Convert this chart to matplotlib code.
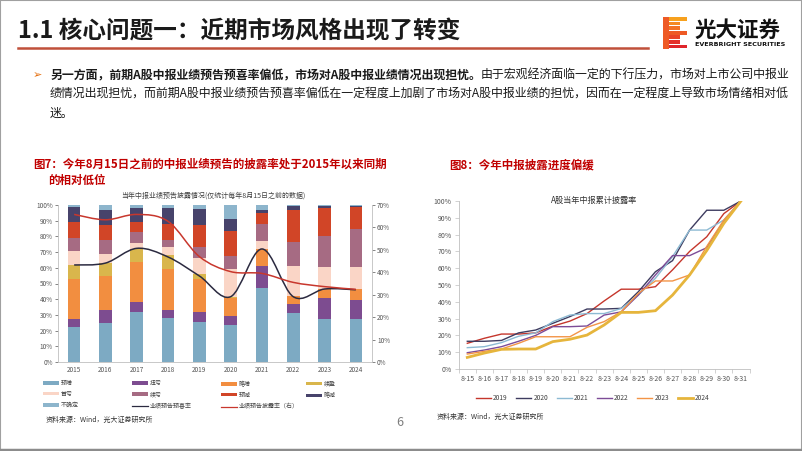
import matplotlib
matplotlib.use("Agg")
import matplotlib.pyplot as plt
import numpy as np
from matplotlib.path import Path
from matplotlib.patches import PathPatch, Patch, Rectangle
from matplotlib.lines import Line2D
from matplotlib.ticker import PercentFormatter

plt.rcParams['font.family'] = ['Noto Sans CJK SC', 'DejaVu Sans']

W, H = 802, 451

# ---- 图7 数据 ----
years = ['2015', '2016', '2017', '2018', '2019', '2020', '2021', '2022', '2023', '2024']
bar_cats = ['预增', '扭亏', '略增', '续盈', '首亏', '续亏', '预减', '略减', '不确定']
yuzeng = [22.0, 25.0, 32.0, 28.0, 25.5, 23.5, 47.3, 31.0, 27.4, 27.4]
niukui = [5.5, 8.0, 6.0, 5.0, 6.5, 6.0, 14.0, 5.7, 13.2, 12.1]
lvezeng = [25.5, 21.5, 26.0, 26.0, 21.0, 11.0, 10.7, 5.6, 5.9, 6.8]
xuying = [8.5, 8.5, 8.0, 9.0, 3.0, 1.0, 0.0, 0.0, 0.0, 0.0]
shoukui = [9.0, 6.0, 4.0, 5.0, 10.0, 17.7, 5.1, 19.1, 14.2, 14.4]
xukui = [8.5, 9.0, 7.0, 5.0, 7.0, 8.5, 10.6, 14.8, 19.8, 24.0]
yujian = [10.0, 9.0, 6.0, 10.0, 14.5, 16.0, 7.0, 20.6, 17.4, 13.8]
lvejian = [10.0, 10.0, 9.0, 10.0, 10.0, 7.4, 2.1, 2.5, 1.6, 1.1]
buqueding = [1.0, 3.0, 2.0, 2.0, 2.5, 8.9, 3.2, 0.7, 0.5, 0.4]
yuxi_rate = [61.8, 63.0, 72.4, 66.9, 54.8, 41.6, 72.0, 41.6, 46.5, 46.0]     # 左轴
pilu_rate = [65.8, 63.4, 65.8, 62.7, 47.0, 40.3, 39.5, 35.5, 33.6, 32.4]     # 右轴

bar_colors = ['#7DAAC3', '#7D4C90', '#F28E40', '#D9B64C', '#FAD5C6',
              '#A66B83', '#D14527', '#47436B', '#8DB5CC']

# ---- 图8 数据 ----
days = ['8-15', '8-16', '8-17', '8-18', '8-19', '8-20', '8-21', '8-22', '8-23',
        '8-24', '8-25', '8-26', '8-27', '8-28', '8-29', '8-30', '8-31']
r2019 = [15.3, 18.3, 20.8, 20.8, 21.5, 25.5, 28.5, 33.0, 40.5, 47.5, 47.5, 49.0, 59.0, 70.0, 78.7, 92.5, 100]
r2020 = [16.5, 16.5, 17.0, 21.5, 23.2, 27.2, 31.2, 35.7, 35.7, 36.1, 46.0, 57.9, 64.5, 82.7, 94.5, 94.5, 100]
r2021 = [12.7, 13.3, 15.7, 19.5, 21.5, 28.2, 32.1, 33.0, 33.0, 36.0, 44.0, 54.0, 66.9, 82.7, 82.7, 88.7, 100]
r2022 = [9.7, 11.3, 13.3, 16.5, 20.0, 25.2, 25.2, 25.6, 32.1, 34.0, 44.0, 56.0, 67.5, 67.5, 72.2, 88.0, 100]
r2023 = [8.9, 10.5, 11.9, 15.3, 19.2, 19.2, 19.2, 24.8, 28.2, 34.1, 45.0, 52.4, 52.4, 56.0, 73.0, 88.7, 100]
r2024 = [6.9, 9.5, 11.7, 11.9, 11.9, 16.3, 17.7, 20.2, 26.2, 33.7, 33.7, 34.7, 44.0, 56.0, 70.5, 86.7, 100]
line_years = ['2019', '2020', '2021', '2022', '2023', '2024']
line_colors = ['#C5362C', '#3E3C60', '#8DBAD3', '#7D4C97', '#F39447', '#E6B53C']


def fx(x):
    return x / W


def fy(y):
    return 1 - y / H


def smooth_path(xs, ys):
    # Excel 风格平滑线 (Catmull-Rom -> Bezier)
    pts = np.column_stack([xs, ys]).astype(float)
    n = len(pts)
    verts, codes = [pts[0]], [Path.MOVETO]
    for i in range(n - 1):
        p0 = pts[i - 1] if i > 0 else pts[i]
        p1, p2 = pts[i], pts[i + 1]
        p3 = pts[i + 2] if i + 2 < n else pts[i + 1]
        verts += [p1 + (p2 - p0) / 6, p2 - (p3 - p1) / 6, p2]
        codes += [Path.CURVE4] * 3
    return Path(verts, codes)


fig = plt.figure(figsize=(W / 100, H / 100), dpi=100)
fig.patch.set_facecolor('white')

# ---- 页面框架 ----
fig.add_artist(Rectangle((0, 0), 1, 1, transform=fig.transFigure, fill=False,
                         edgecolor='#A0A0A0', lw=1.5))
fig.add_artist(Line2D([0, 1], [fy(449.5), fy(449.5)], transform=fig.transFigure,
                      color='#8C8C8C', lw=2.5))

fig.text(fx(18), fy(31), '1.1 核心问题一：近期市场风格出现了转变', fontsize=17,
         fontweight='bold', va='center', ha='left', color='#1A1A1A')
fig.add_artist(Line2D([fx(18), fx(648)], [fy(48), fy(48)], transform=fig.transFigure,
                      color='#C0503A', lw=1.8))

# logo
stripe_cols = ['#F7A11E', '#F58A20', '#F27223', '#EE5A25', '#E94427', '#E4302A', '#DF252B']
for i, c in enumerate(stripe_cols):
    y0 = 17 + i * 4.6
    w = 24 if i in (0, 3, 6) else 17
    fig.add_artist(Rectangle((fx(663), fy(y0 + 3.8)), w / W, 3.8 / H,
                             transform=fig.transFigure, color=c, lw=0))
fig.add_artist(Rectangle((fx(663), fy(49)), 6 / W, 32 / H,
                         transform=fig.transFigure, color='#EE5A25', lw=0))
fig.text(fx(695), fy(30), '光大证券', fontsize=15.5, fontweight='bold',
         va='center', ha='left', color='#111111')
fig.text(fx(695), fy(45), 'EVERBRIGHT SECURITIES', fontsize=4.6, fontweight='bold',
         va='center', ha='left', color='#111111', family=['DejaVu Sans'])

# 正文
fig.text(fx(37), fy(75), '➢', fontsize=8, color='#E46C0A', va='center', ha='center',
         family=['DejaVu Sans'])
t1 = fig.text(fx(50), fy(75), '另一方面，前期A股中报业绩预告预喜率偏低，市场对A股中报业绩情况出现担忧。',
              fontsize=8.6, fontweight='bold', va='center', ha='left', color='#1A1A1A')
fig.add_artist(plt.Annotation('由于宏观经济面临一定的下行压力，市场对上市公司中报业',
                              xy=(1, 0.5), xycoords=t1, va='center', ha='left',
                              fontsize=8.6, color='#1A1A1A'))
body2 = '绩情况出现担忧，而前期A股中报业绩预告预喜率偏低在一定程度上加剧了市场对A股中报业绩的担忧，因而在一定程度上导致市场情绪相对低'
fig.text(fx(50), fy(94), body2, fontsize=8.6, va='center', ha='left', color='#1A1A1A')
fig.text(fx(50), fy(113), '迷。', fontsize=8.6, va='center', ha='left', color='#1A1A1A')

# 图标题
red = '#C00000'
fig.text(fx(33), fy(164), '图7：今年8月15日之前的中报业绩预告的披露率处于2015年以来同期',
         fontsize=8.3, fontweight='bold', color=red, va='center', ha='left')
fig.text(fx(48), fy(180), '的相对低位', fontsize=8.3, fontweight='bold', color=red,
         va='center', ha='left')
fig.text(fx(449), fy(165), '图8：今年中报披露进度偏缓', fontsize=8.3, fontweight='bold',
         color=red, va='center', ha='left')

# ---- 图7 ----
ax = fig.add_axes([fx(58.5), fy(362), (371.5 - 58.5) / W, (362 - 205) / H])
x = np.arange(len(years))
series = [yuzeng, niukui, lvezeng, xuying, shoukui, xukui, yujian, lvejian, buqueding]
bottom = np.zeros(len(years))
for vals, col in zip(series, bar_colors):
    ax.bar(x, vals, bottom=bottom, width=0.4, color=col, lw=0)
    bottom += np.array(vals)
ax.set_xlim(-0.5, len(years) - 0.5)
ax.set_ylim(0, 100)
ax.set_yticks(np.arange(0, 101, 10))
ax.yaxis.set_major_formatter(PercentFormatter(decimals=0))
ax.set_xticks(x)
ax.set_xticklabels(years)
ax.tick_params(labelsize=4.6, colors='#555555', length=2, width=0.5, pad=2)
ax.tick_params(axis='x', length=0, pad=3)
for s in ['top', 'right']:
    ax.spines[s].set_visible(False)
for s in ['left', 'bottom']:
    ax.spines[s].set_color('#BFBFBF')
    ax.spines[s].set_linewidth(0.6)
ax.add_patch(PathPatch(smooth_path(x, yuxi_rate), fill=False, edgecolor='#2B2A40', lw=1.1))

ax2 = ax.twinx()
ax2.set_ylim(0, 70)
ax2.set_yticks(np.arange(0, 71, 10))
ax2.yaxis.set_major_formatter(PercentFormatter(decimals=0))
ax2.tick_params(labelsize=4.6, colors='#555555', length=2, width=0.5, pad=2)
for s in ['top', 'left', 'bottom']:
    ax2.spines[s].set_visible(False)
ax2.spines['right'].set_color('#BFBFBF')
ax2.spines['right'].set_linewidth(0.6)
ax2.add_patch(PathPatch(smooth_path(x, pilu_rate), fill=False, edgecolor='#C8372D', lw=1.1))

fig.text(fx(213), fy(196), '当年中报业绩预告披露情况(仅统计每年8月15日之前的数据)', fontsize=5,
         ha='center', va='center', color='#404040')

# 图7 图例 (按列放置)
bar_handles = [Patch(facecolor=c, edgecolor='none', label=l) for c, l in zip(bar_colors, bar_cats)]
h_yuxi = Line2D([], [], color='#2B2A40', lw=0.9, label='业绩预告预喜率')
h_pilu = Line2D([], [], color='#C8372D', lw=0.9, label='业绩预告披露率（右）')
cols = [[bar_handles[0], bar_handles[4], bar_handles[8]],
        [bar_handles[1], bar_handles[5], h_yuxi],
        [bar_handles[2], bar_handles[6], h_pilu],
        [bar_handles[3], bar_handles[7]]]
for cx, hs in zip([43, 132, 221, 306], cols):
    leg = fig.legend(handles=hs, loc='upper left', bbox_to_anchor=(fx(cx), fy(381)),
                     frameon=False, fontsize=4.3, handlelength=2.6, handleheight=0.5,
                     handletextpad=0.4, labelspacing=0.95, borderaxespad=0, borderpad=0)
    for t in leg.get_texts():
        t.set_color('#404040')
fig.text(fx(46), fy(420), '资料来源：Wind，光大证券研究所', fontsize=5, ha='left',
         va='center', color='#333333')

# ---- 图8 ----
bx = fig.add_axes([fx(458.75), fy(369), (749.5 - 458.75) / W, 168 / H])
xd = np.arange(len(days))
for vals, col, lab in zip([r2019, r2020, r2021, r2022, r2023, r2024], line_colors, line_years):
    bx.plot(xd, vals, color=col, lw=2.0 if lab == '2024' else 1.0, label=lab,
            solid_joinstyle='miter')
bx.set_xlim(-0.5, len(days) - 0.5)
bx.set_ylim(0, 100)
bx.set_yticks(np.arange(0, 101, 10))
bx.yaxis.set_major_formatter(PercentFormatter(decimals=0))
bx.set_xticks(xd)
bx.set_xticklabels(days)
bx.set_xticks(np.arange(-0.5, len(days), 1), minor=True)
bx.tick_params(labelsize=5, colors='#555555', pad=2)
bx.tick_params(axis='x', which='major', length=0, pad=4)
bx.tick_params(axis='x', which='minor', length=3, width=0.5, color='#BFBFBF')
bx.tick_params(axis='y', length=3, width=0.5, color='#BFBFBF')
for s in ['top', 'right']:
    bx.spines[s].set_visible(False)
for s in ['left', 'bottom']:
    bx.spines[s].set_color('#BFBFBF')
    bx.spines[s].set_linewidth(0.6)
fig.text(fx(594), fy(200), 'A股当年中报累计披露率', fontsize=5.9, ha='center',
         va='center', color='#333333')
leg8 = fig.legend(handles=bx.get_lines(), loc='center left', bbox_to_anchor=(fx(476), fy(398)),
                  ncol=6, frameon=False, fontsize=4.8, handlelength=2.25, handletextpad=0.3,
                  columnspacing=1.3, borderaxespad=0, borderpad=0)
for t in leg8.get_texts():
    t.set_color('#404040')
fig.text(fx(437), fy(417), '资料来源：Wind，光大证券研究所', fontsize=5, ha='left',
         va='center', color='#333333')

fig.text(fx(400), fy(423), '6', fontsize=9, ha='center', va='center', color='#7F7F7F')

fig.savefig('out.png', dpi=100)
